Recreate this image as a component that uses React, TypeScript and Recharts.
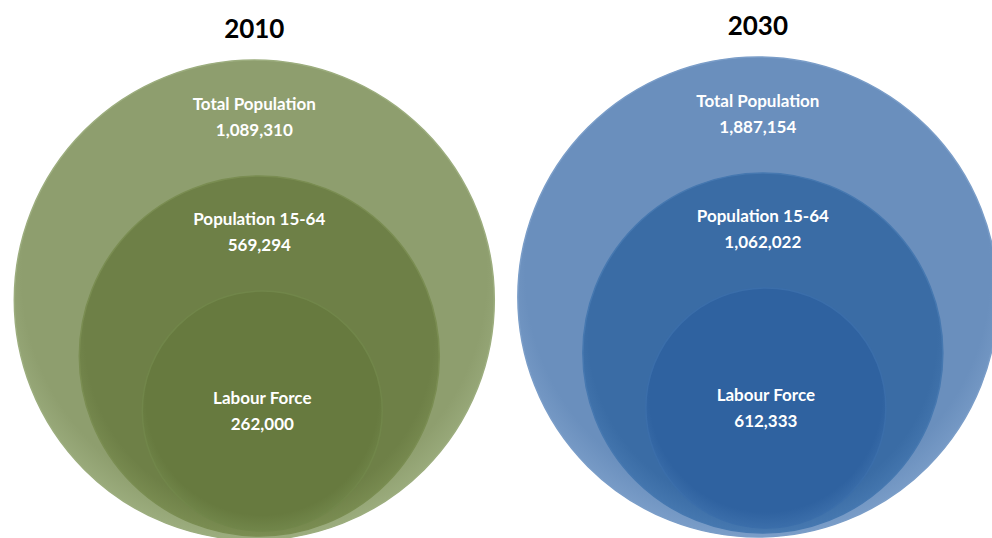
import React from "react";
import { ScatterChart, Scatter, XAxis, YAxis } from "recharts";

// ---- data ----
const years = ["2010", "2030"];
const tierNames = ["Total Population", "Population 15-64", "Labour Force"];
const values2010 = [1089310, 569294, 262000];
const values2030 = [1887154, 1062022, 612333];
const seriesByYear = [values2010, values2030];

// ---- styles ----
const RADII = [240, 180, 120];
const DX = [0, 5, 8];
const DY = [0, 4, 9];
const YEAR_DY = [0, 3];
const LABEL_DY = [43, 42, 106];
const PALETTES = [
  ["#8e9e6e", "#6e8047", "#677a3f"],
  ["#6a8fbd", "#3a6ca5", "#2f62a0"],
];
const EDGE = [
  ["#9cad7e", "#7a8d52", "#71864a"],
  ["#7a9dc8", "#4678b0", "#3b6eaa"],
];
const FONT = "Lato, 'Open Sans', sans-serif";

const rowsFor = (i: number) =>
  tierNames.map((name, j) => ({
    x: i,
    y: 0,
    year: i,
    tier: j,
    name,
    value: seriesByYear[i][j],
  }));

const CircleShape = (props: any) => {
  const { cx, cy, payload } = props;
  const t = payload.tier;
  const yi = payload.year;
  const r = RADII[t];
  const x = cx + DX[t];
  const top = cy - DY[t] - YEAR_DY[yi] - 2 * r;
  const cc = top + r;
  const id = `grad-${yi}-${t}`;
  const fill = PALETTES[yi][t];
  return (
    <g>
      <defs>
        <radialGradient id={id} cx="50%" cy="45%" r="55%">
          <stop offset="0%" stopColor={fill} />
          <stop offset="88%" stopColor={fill} />
          <stop offset="100%" stopColor={EDGE[yi][t]} />
        </radialGradient>
      </defs>
      <circle cx={x} cy={cc} r={r} fill={`url(#${id})`} stroke={EDGE[yi][t]} strokeWidth={1.5} />
      <text
        x={x}
        y={top + LABEL_DY[t]}
        textAnchor="middle"
        dominantBaseline="central"
        fill="#ffffff"
        fontFamily={FONT}
        fontWeight={700}
        fontSize={17}
      >
        {payload.name}
      </text>
      <text
        x={x}
        y={top + LABEL_DY[t] + 26}
        textAnchor="middle"
        dominantBaseline="central"
        fill="#ffffff"
        fontFamily={FONT}
        fontWeight={700}
        fontSize={17}
      >
        {payload.value.toLocaleString("en-US")}
      </text>
    </g>
  );
};

const YearTick = (props: any) => {
  const { x, payload } = props;
  return (
    <text
      x={x}
      y={28 - YEAR_DY[payload.value]}
      textAnchor="middle"
      dominantBaseline="central"
      fill="#000000"
      fontFamily={FONT}
      fontWeight={700}
      fontSize={26}
    >
      {years[payload.value]}
    </text>
  );
};

export default function App() {
  return (
    <div style={{ position: "absolute", left: 0, top: 0, width: 992, height: 538, background: "#ffffff", overflow: "hidden" }}>
      <ScatterChart width={992} height={538} margin={{ top: 0, right: 0, bottom: -2, left: 0 }}>
        <XAxis
          type="number"
          dataKey="x"
          domain={[-0.505, 1.465]}
          ticks={[0, 1]}
          orientation="top"
          height={40}
          axisLine={false}
          tickLine={false}
          tick={<YearTick />}
          allowDataOverflow
        />
        <YAxis type="number" dataKey="y" domain={[0, 1]} hide width={0} />
        {years.map((yr, i) => (
          <Scatter
            key={yr}
            data={rowsFor(i)}
            shape={<CircleShape />}
            isAnimationActive={false}
          />
        ))}
      </ScatterChart>
    </div>
  );
}
